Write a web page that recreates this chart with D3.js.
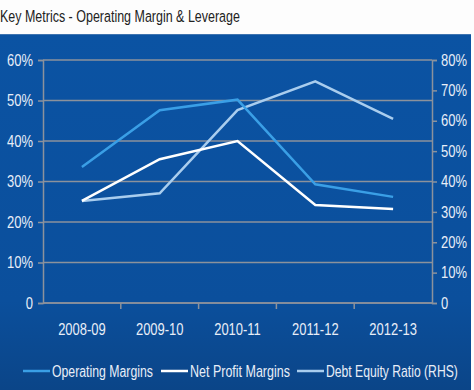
<!DOCTYPE html>
<html><head><meta charset="utf-8">
<script src="https://cdn.jsdelivr.net/npm/d3@7"></script>
<style>
html,body{margin:0;padding:0;background:#fff;}
svg{display:block;}
</style></head>
<body>
<script>
const categories = ["2008-09","2009-10","2010-11","2011-12","2012-13"];
const operatingMargins = [33.6, 47.6, 50.2, 29.3, 26.2];
const netProfitMargins = [25.2, 35.5, 40.0, 24.2, 23.2];
const debtEquityRatio = [33.6, 36.1, 63.5, 73.0, 60.6];
const leftTicks = [0,10,20,30,40,50,60];
const rightTicks = [0,10,20,30,40,50,60,70,80];
const seriesNames = ["Operating Margins","Net Profit Margins","Debt Equity Ratio (RHS)"];

(function(){
const W = 474, H = 390;
const FONT = "'Liberation Sans',Arial,sans-serif";
const svg = d3.select("body").append("svg").attr("width", W).attr("height", H);

function condense(sel, factor){
  sel.each(function(){
    const len = this.getComputedTextLength();
    d3.select(this).attr("textLength", len*factor).attr("lengthAdjust","spacingAndGlyphs");
  });
}
// draw text horizontally scaled to a target width via transform
function narrowText(parent, x, y, str, size, color, targetW){
  const t = parent.append("text").attr("x",0).attr("y",0).attr("font-family",FONT)
    .attr("font-size",size).attr("fill",color).text(str);
  const len = t.node().getComputedTextLength();
  t.attr("transform", `translate(${x},${y}) scale(${targetW/len},1)`);
  return t;
}

const defs = svg.append("defs");
const g1 = defs.append("linearGradient").attr("id","bg").attr("x1",0).attr("y1",0).attr("x2",0).attr("y2",1);
g1.append("stop").attr("offset","0%").attr("stop-color","#0b53a3");
g1.append("stop").attr("offset","75%").attr("stop-color","#0b4f9c");
g1.append("stop").attr("offset","100%").attr("stop-color","#0b4588");

svg.append("rect").attr("x",0).attr("y",0).attr("width",W).attr("height",H).attr("fill","#fdfdfd");
narrowText(svg, 0, 22, "Key Metrics - Operating Margin & Leverage", 17, "#222", 240);
svg.append("rect").attr("x",0).attr("y",34).attr("width",471).attr("height",H-34).attr("fill","url(#bg)");
svg.append("line").attr("x1",0).attr("x2",471).attr("y1",34.5).attr("y2",34.5).attr("stroke","#3f74b0").attr("stroke-width",1);

const pl = 43, pr = 432, pt = 60, pb = 303;
const x = d3.scalePoint().domain(categories).range([pl, pr]).padding(0.5);
const xb = d3.scaleBand().domain(categories).range([pl, pr]);
const yL = d3.scaleLinear().domain([0,60]).range([pb, pt]);
const yR = d3.scaleLinear().domain([0,80]).range([pb, pt]);

const gridColor = "#8c929c";
svg.append("g").selectAll("line").data(leftTicks).join("line")
  .attr("x1", pl).attr("x2", pr).attr("y1", d=>yL(d)).attr("y2", d=>yL(d))
  .attr("stroke", gridColor).attr("stroke-width", 1.5);

const axL = svg.append("g").attr("transform",`translate(${pl},0)`)
  .call(d3.axisLeft(yL).tickValues(leftTicks).tickSize(5).tickPadding(5).tickFormat(d=> d===0 ? "0" : d+"%"));
const axR = svg.append("g").attr("transform",`translate(${pr},0)`)
  .call(d3.axisRight(yR).tickValues(rightTicks).tickSize(5).tickPadding(4).tickFormat(d=> d===0 ? "0" : d+"%"));
const axB = svg.append("g").attr("transform",`translate(0,${pb})`)
  .call(d3.axisBottom(xb).tickSize(0).tickPadding(21));
svg.append("g").selectAll("line").data(categories.slice(1)).join("line")
  .attr("x1", d=>xb(d)).attr("x2", d=>xb(d)).attr("y1", pb).attr("y2", pb+6)
  .attr("stroke", gridColor).attr("stroke-width", 1.5);

[axL, axR, axB].forEach(a=>{
  a.selectAll(".domain").attr("stroke", gridColor).attr("stroke-width",1.5);
  a.selectAll(".tick line").attr("stroke", gridColor).attr("stroke-width",1.5);
  a.selectAll("text").attr("fill","#e8eef8").attr("font-family",FONT).attr("font-size",16);
  condense(a.selectAll("text"), 0.81);
});
axB.select(".domain").remove();
svg.append("line").attr("x1",pl).attr("x2",pr).attr("y1",pb).attr("y2",pb)
  .attr("stroke",gridColor).attr("stroke-width",1.5);

const colors = ["#3a9fe6","#ffffff","#a9cdee"];
const lineL = d3.line().x((d,i)=>x(categories[i])).y(d=>yL(d));
const lineR = d3.line().x((d,i)=>x(categories[i])).y(d=>yR(d));
svg.append("path").datum(debtEquityRatio).attr("d", lineR).attr("fill","none").attr("stroke",colors[2]).attr("stroke-width",2.5);
svg.append("path").datum(operatingMargins).attr("d", lineL).attr("fill","none").attr("stroke",colors[0]).attr("stroke-width",2.5);
svg.append("path").datum(netProfitMargins).attr("d", lineL).attr("fill","none").attr("stroke",colors[1]).attr("stroke-width",2.5);

const legendItems = [
  {name: seriesNames[0], color: colors[0], x: 23, w: 101},
  {name: seriesNames[1], color: colors[1], x: 161, w: 100},
  {name: seriesNames[2], color: colors[2], x: 297, w: 132}
];
const lg = svg.append("g");
legendItems.forEach(it=>{
  lg.append("line").attr("x1", it.x).attr("x2", it.x+27).attr("y1", 371).attr("y2", 371)
    .attr("stroke", it.color).attr("stroke-width", 2.5);
  narrowText(lg, it.x+29, 377, it.name, 16, "#e8eef8", it.w);
});
})();
</script>
</body></html>
